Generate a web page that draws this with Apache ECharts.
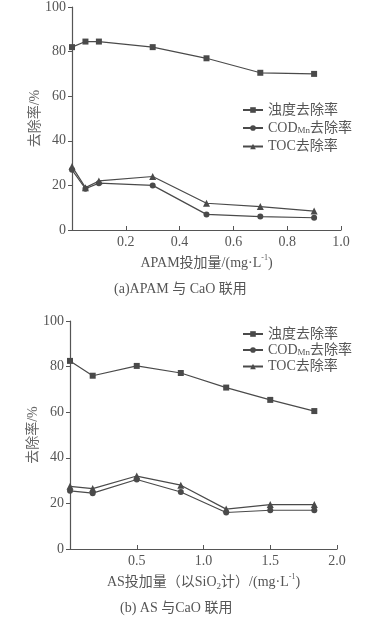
<!DOCTYPE html>
<html>
<head>
<meta charset="utf-8">
<script src="https://cdn.jsdelivr.net/npm/echarts@6/dist/echarts.min.js"></script>
<style>
html,body{margin:0;padding:0;background:#fff;}
#c{width:388px;height:622px;}
</style>
</head>
<body>
<div id="c"></div>
<script>
// Chart (a): APAM dosage
var xA = [0, 0.05, 0.1, 0.3, 0.5, 0.7, 0.9];
var turbA = [82, 84.5, 84.5, 82, 77, 70.5, 70];
var codA = [27, 18.5, 21, 20, 7, 6, 5.5];
var tocA = [28.5, 19, 22, 24, 12, 10.5, 8.5];
// Chart (b): AS dosage
var xB = [0, 0.17, 0.5, 0.83, 1.17, 1.5, 1.83];
var turbB = [82.5, 76, 80.3, 77.2, 70.8, 65.4, 60.5];
var codB = [25.5, 24.5, 30.5, 25, 16, 17, 17];
var tocB = [27.5, 26.5, 32, 28, 17.5, 19.5, 19.5];

var yTicks = [0, 20, 40, 60, 80, 100];

function pairs(xs, ys) { return xs.map(function (x, i) { return [x, ys[i]]; }); }

var FONT = "'Liberation Serif', 'Noto Sans CJK SC', serif";
var TXT = '#555';
var LINE = '#4a4a4a';

function mkSeries(name, xs, ys, sym, idx) {
  return {
    type: 'line', name: name, xAxisIndex: idx, yAxisIndex: idx,
    data: pairs(xs, ys), symbol: sym, symbolSize: sym === 'triangle' ? 7 : 6,
    itemStyle: { color: LINE }, lineStyle: { color: LINE, width: 1.2 },
    emphasis: { disabled: true }, animation: false
  };
}

function yAxis(idx) {
  return {
    gridIndex: idx, type: 'value', min: yTicks[0], max: yTicks[yTicks.length - 1], interval: 20,
    name: '去除率/%', nameLocation: 'middle', nameGap: 30, nameMoveOverlap: false,
    nameTextStyle: { fontFamily: FONT, fontSize: 14, color: '#666' },
    axisLine: { show: true, lineStyle: { color: '#555', width: 1.2 } },
    axisTick: { show: true, inside: false, length: 4, lineStyle: { color: '#555' } },
    axisLabel: { fontFamily: FONT, fontSize: 14, color: TXT, margin: 6 },
    splitLine: { show: false }
  };
}

var rich = {
  t: { fontFamily: FONT, fontSize: 14, color: TXT, lineHeight: 18 },
  sup: { fontFamily: FONT, fontSize: 8, color: TXT, verticalAlign: 'top', lineHeight: 18 },
  sub: { fontFamily: FONT, fontSize: 9, color: TXT, verticalAlign: 'bottom', lineHeight: 14 }
};

function xAxis(idx, max, interval, name) {
  return {
    gridIndex: idx, type: 'value', min: 0, max: max, interval: interval,
    name: name, nameLocation: 'middle', nameGap: 24, nameMoveOverlap: false,
    nameTextStyle: { rich: rich },
    axisLine: { show: true, lineStyle: { color: '#555', width: 1.2 } },
    axisTick: { show: true, inside: true, length: 4, lineStyle: { color: '#555' } },
    axisLabel: {
      fontFamily: FONT, fontSize: 14, color: TXT, margin: 5,
      formatter: function (v) { return v === 0 ? '' : v.toFixed(1); }
    },
    splitLine: { show: false }
  };
}

function legendFmt(n) {
  if (n.indexOf('COD') === 0) return '{t|COD}{sub|Mn}{t|去除率}';
  if (n.indexOf('TOC') === 0) return '{t|TOC去除率}';
  return '{t|浊度去除率}';
}

var legRich = {
  t: { fontFamily: FONT, fontSize: 14, color: TXT, lineHeight: 15 },
  sub: { fontFamily: FONT, fontSize: 9, color: TXT, verticalAlign: 'bottom', lineHeight: 12 }
};

var option = {
  animation: false,
  backgroundColor: '#fff',
  grid: [
    { left: 72, right: 47, top: 5, bottom: 392 },
    { left: 70, right: 51, top: 321, bottom: 73 }
  ],
  xAxis: [
    xAxis(0, 1.0, 0.2, '{t|APAM投加量/(mg·L}{sup|-1}{t|)}'),
    xAxis(1, 2.0, 0.5, '{t|AS投加量（以SiO}{sub|2}{t|计）/(mg·L}{sup|-1}{t|)}')
  ],
  yAxis: [yAxis(0), yAxis(1)],
  legend: [
    {
      data: ['浊度去除率', 'COD_Mn去除率', 'TOC去除率'], orient: 'vertical', left: 237, top: 98,
      itemWidth: 20, itemHeight: 7, itemGap: 4, formatter: legendFmt,
      textStyle: { rich: legRich }, selectedMode: false
    },
    {
      data: ['浊度去除率 ', 'COD_Mn去除率 ', 'TOC去除率 '], orient: 'vertical', left: 237, top: 322,
      itemWidth: 20, itemHeight: 7, itemGap: 2, formatter: legendFmt,
      textStyle: { rich: legRich }, selectedMode: false
    }
  ],
  series: [
    mkSeries('浊度去除率', xA, turbA, 'rect', 0),
    mkSeries('COD_Mn去除率', xA, codA, 'circle', 0),
    mkSeries('TOC去除率', xA, tocA, 'triangle', 0),
    mkSeries('浊度去除率 ', xB, turbB, 'rect', 1),
    mkSeries('COD_Mn去除率 ', xB, codB, 'circle', 1),
    mkSeries('TOC去除率 ', xB, tocB, 'triangle', 1)
  ],
  graphic: [
    { type: 'text', left: 114, top: 282, style: { text: '(a)APAM 与 CaO 联用', font: '14px ' + FONT, fill: TXT } },
    { type: 'text', left: 120, top: 601, style: { text: '(b) AS 与CaO 联用', font: '14px ' + FONT, fill: TXT } }
  ]
};

var chart = echarts.init(document.getElementById('c'), null, { renderer: 'canvas' });
chart.setOption(option);
</script>
</body>
</html>
